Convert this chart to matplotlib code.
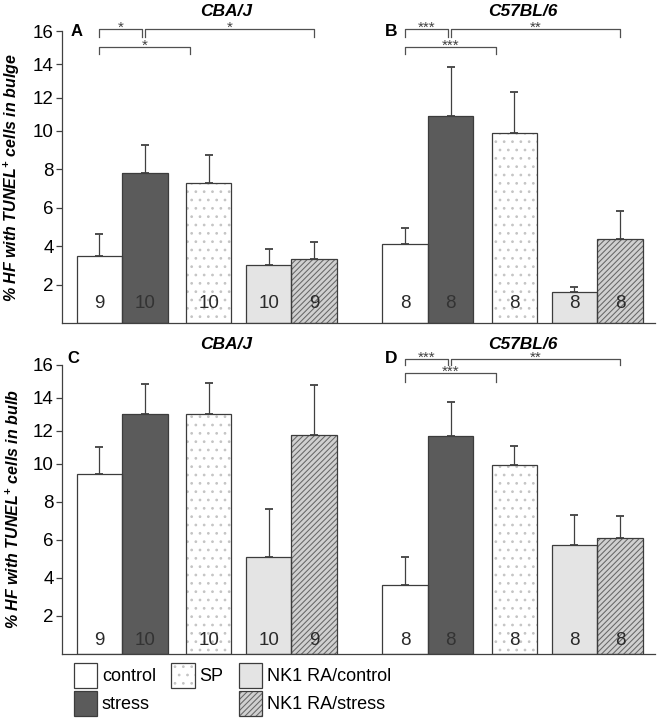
import numpy as np
import matplotlib
matplotlib.use("Agg")
import matplotlib.pyplot as plt
from matplotlib.patches import Rectangle
from matplotlib.legend_handler import HandlerTuple

plt.rcParams['font.family'] = ['Liberation Sans', 'DejaVu Sans']
plt.rcParams['mathtext.fontset'] = 'custom'
plt.rcParams['mathtext.rm'] = 'Liberation Sans:bold:italic'
plt.rcParams['mathtext.it'] = 'Liberation Sans:bold:italic'
plt.rcParams['mathtext.bf'] = 'Liberation Sans:bold:italic'
plt.rcParams['hatch.linewidth'] = 0.75

# ---------------- data ----------------
strains = ['CBA/J', 'C57BL/6']
treatments = ['control', 'stress', 'SP', 'NK1 RA/control', 'NK1 RA/stress']
y_ticks = [2, 4, 6, 8, 10, 12, 14, 16]

bulge_cba = [3.50, 7.83, 7.28, 3.03, 3.34]
bulge_cba_err = [1.13, 1.43, 1.47, 0.83, 0.87]
bulge_c57 = [4.11, 10.88, 9.88, 1.61, 4.37]
bulge_c57_err = [0.83, 2.97, 2.47, 0.26, 1.47]

bulb_cba = [9.48, 13.0, 13.0, 5.10, 11.76]
bulb_cba_err = [1.55, 1.84, 1.88, 2.54, 3.04]
bulb_c57 = [3.62, 11.71, 9.91, 5.75, 6.10]
bulb_c57_err = [1.48, 2.05, 1.15, 1.54, 1.15]

n_cba = [9, 10, 10, 10, 9]
n_c57 = [8, 8, 8, 8, 8]

# significance: (bar i, bar j, label)
sig_A = [(0, 1, '*'), (1, 4, '*'), (0, 2, '*')]
sig_B = [(0, 1, '***'), (1, 4, '**'), (0, 2, '***')]
sig_C = []
sig_D = [(0, 1, '***'), (1, 4, '**'), (0, 2, '***')]

panel_letters = ['A', 'B', 'C', 'D']
ylabels = ['% HF with TUNEL$^{+}$ cells in bulge',
           '% HF with TUNEL$^{+}$ cells in bulb']

# ---------------- styles ----------------
EDGE = '#3c3c3c'
styles = [
    dict(face='white', hatch=None, hcolor=None),
    dict(face='#5b5b5b', hatch=None, hcolor=None),
    dict(face='white', hatch='..', hcolor='#c4c4c4'),
    dict(face='#e4e4e4', hatch=None, hcolor=None),
    dict(face='#d0d0d0', hatch='//////', hcolor='#666666'),
]
n_text_colors = ['#2a2a2a', '#333333', '#2a2a2a', '#2a2a2a', '#2a2a2a']

offsets = [0.0, 1.0, 2.4, 3.72, 4.72]
group_shift = 6.72
W = 1.0
title_dx = [3.28, 3.09]

# piecewise scale (upper part of axis compressed as in original)
K = 0.865
def fwd(y):
    y = np.asarray(y, dtype=float)
    return np.where(y <= 10, y, 10 + (y - 10) * K)
def inv(y):
    y = np.asarray(y, dtype=float)
    return np.where(y <= 10, y, 10 + (y - 10) / K)

fig = plt.figure(figsize=(6.6, 7.2), dpi=100)
ax_top = fig.add_axes([62/660, 1 - 323.3/720, 593/660, 292.3/720])
ax_bot = fig.add_axes([62/660, 1 - 654/720, 593/660, 289/720])


def draw_bars(ax, vals, errs, ns, g, n_off_pts):
    xs = [g * group_shift + o for o in offsets]
    for k, (x, v, e, n) in enumerate(zip(xs, vals, errs, ns)):
        st = styles[k]
        if st['hatch']:
            ax.bar(x, v, width=W, align='edge', color=st['face'],
                   edgecolor=st['hcolor'], hatch=st['hatch'], linewidth=0,
                   zorder=2)
        else:
            ax.bar(x, v, width=W, align='edge', color=st['face'],
                   linewidth=0, zorder=2)
        ax.bar(x, v, width=W, align='edge', fill=False, edgecolor=EDGE,
               linewidth=0.9, zorder=3)
        ax.errorbar(x + W / 2, v, yerr=[[0], [e]], fmt='none', ecolor='#404040',
                    elinewidth=0.9, capsize=3, capthick=1.3, zorder=4)
        ax.annotate(str(n), (x + W / 2, 0), xytext=(0, n_off_pts),
                    textcoords='offset points', ha='center', va='bottom',
                    fontsize=13.5, color=n_text_colors[k], zorder=5)
    return xs


def draw_sig(ax, xs, sigs, levels):
    for idx, (i, j, lab) in enumerate(sigs):
        x0 = xs[i] + W / 2
        if idx == 0:
            x1 = xs[j] + W / 2 - 0.06
            yl, yd = levels[0]
        elif idx == 1:
            x1 = xs[j] + W / 2
            yl, yd = levels[0]
        else:
            x1 = xs[j] + 0.1
            yl, yd = levels[1]
        ax.plot([x0, x0, x1, x1], [yd, yl, yl, yd], color='#505050', lw=0.9,
                clip_on=False, zorder=5)
        ax.annotate(lab, ((x0 + x1) / 2, yl), xytext=(0, -2),
                    textcoords='offset points', ha='center', va='baseline',
                    fontsize=11, color='#404040', annotation_clip=False)


panels = [
    (ax_top, [bulge_cba, bulge_c57], [bulge_cba_err, bulge_c57_err],
     [sig_A, sig_B], 8, [(16.1, 15.62), (15.05, 14.6)], (0.0, 16.0), (6.91, 16.0), 19),
    (ax_bot, [bulb_cba, bulb_c57], [bulb_cba_err, bulb_c57_err],
     [sig_C, sig_D], 3.5, [(16.38, 16.0), (15.5, 14.95)], (-0.08, 16.37), (6.91, 16.37), 20.5),
]

for p, (ax, vals, errs, sigs, noff, levels, posL, posR, tpx) in enumerate(panels):
    ax.set_yscale('function', functions=(fwd, inv))
    for g in range(2):
        ns = n_cba if g == 0 else n_c57
        xs = draw_bars(ax, vals[g], errs[g], ns, g, noff)
        draw_sig(ax, xs, sigs[g], levels)
        cx = g * group_shift + title_dx[g]
        ax.text(cx, 1.0 + (tpx / 292), strains[g], transform=ax.get_xaxis_transform(),
                ha='center', va='center', fontsize=12.5, fontweight='bold',
                fontstyle='italic')
    ax.set_xlim(-0.323, 12.71)
    ax.set_ylim(0, 16)
    ax.set_yticks(y_ticks)
    ax.set_yticklabels([str(t) for t in y_ticks])
    ax.set_xticks([])
    ax.minorticks_off()
    for s in ['top', 'right']:
        ax.spines[s].set_visible(False)
    for s in ['left', 'bottom']:
        ax.spines[s].set_color('#404040')
        ax.spines[s].set_linewidth(0.9)
    ax.tick_params(axis='y', direction='out', length=4, width=0.9,
                   color='#404040', labelsize=13.5, pad=2)
    ax.set_ylabel(ylabels[p], fontsize=11.5, fontweight='bold', fontstyle='italic')
    ax.yaxis.set_label_coords(-0.067, 0.5)
    # panel letters
    ax.text(posL[0], posL[1], panel_letters[2 * p], fontsize=12, fontweight='bold',
            ha='center', va='center', clip_on=False)
    ax.text(posR[0], posR[1], panel_letters[2 * p + 1],
            fontsize=12.5, fontweight='bold', ha='center', va='center', clip_on=False)

# ---------------- legend ----------------
handles = []
labels = []
order = [0, 1, 2, None, 3, 4]
for k in order:
    if k is None:
        handles.append(Rectangle((0, 0), 1, 1, fill=False, linewidth=0, visible=False))
        labels.append('')
        continue
    st = styles[k]
    if st['hatch']:
        f = Rectangle((0, 0), 1, 1, facecolor=st['face'], edgecolor=st['hcolor'],
                      hatch=st['hatch'], linewidth=0)
    else:
        f = Rectangle((0, 0), 1, 1, facecolor=st['face'], linewidth=0)
    o = Rectangle((0, 0), 1, 1, fill=False, edgecolor=EDGE, linewidth=0.9)
    handles.append((f, o))
    labels.append(treatments[k])

fig.legend(handles, labels, ncol=3, loc='upper left',
           bbox_to_anchor=(74 / 660, 1 - 663 / 720), frameon=False,
           fontsize=13, handlelength=1.3, handleheight=1.75, labelspacing=0.15,
           handletextpad=0.25, columnspacing=0.85, borderpad=0, borderaxespad=0,
           handler_map={tuple: HandlerTuple(ndivide=1)})

fig.savefig('out.png', dpi=100)
